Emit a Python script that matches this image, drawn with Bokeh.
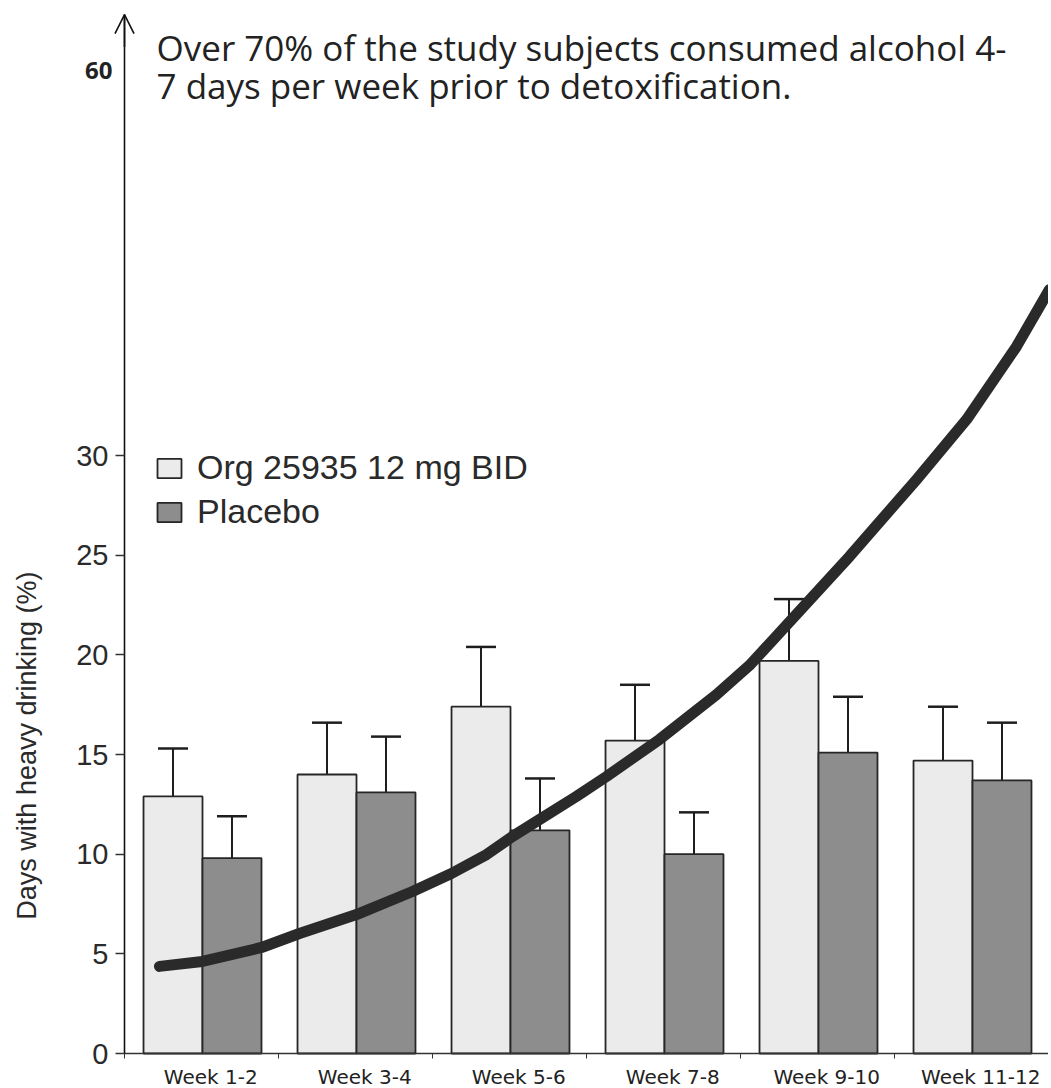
import math
from bokeh.plotting import figure
from bokeh.models import (Range1d, FixedTicker, Whisker, TeeHead, ColumnDataSource,
                          Legend, LegendItem, Label, Arrow, OpenHead)
from bokeh.embed import file_html
from bokeh.resources import INLINE
import numpy as np

# ---- data ----
weeks = ["Week 1-2", "Week 3-4", "Week 5-6", "Week 7-8", "Week 9-10", "Week 11-12"]
org = [12.9, 14.0, 17.4, 15.7, 19.7, 14.7]
org_upper = [15.3, 16.6, 20.4, 18.5, 22.8, 17.4]
placebo = [9.8, 13.1, 11.2, 10.0, 15.1, 13.7]
placebo_upper = [11.9, 15.9, 13.8, 12.1, 17.9, 16.6]
y_ticks = [0, 5, 10, 15, 20, 25, 30]
series_names = ["Org 25935 12 mg BID", "Placebo"]
y_title = "Days with heavy drinking (%)"
note_lines = ["Over 70% of the  study subjects consumed alcohol 4-",
              "7 days per week prior to detoxification."]
top_label = "60"
# hand-drawn trend curve (x in week-group units, y in %)
curve_x = [0.227, 0.506, 0.890, 1.136, 1.506, 1.870, 2.123, 2.351, 2.519, 2.695, 2.935,
           3.130, 3.474, 3.844, 4.058, 4.273, 4.708, 5.143, 5.468, 5.792, 6.006]
curve_y = [4.37, 4.62, 5.32, 6.02, 6.97, 8.13, 9.03, 9.98, 10.89, 11.74, 12.90,
           13.90, 15.76, 18.01, 19.47, 21.27, 24.94, 28.80, 31.81, 35.47, 38.33]

PX_X = 154.0     # pixels per week group
PX_Y = 19.93     # pixels per percent
LEFT = 124       # pixel position of x = 0 inside the frame
ZERO = 1053      # pixel row of y = 0 inside the frame
FW, FH = 1048, 1087
Y_TOP_AXIS = 52.13

idx = np.arange(len(weeks))
x_org = idx + 0.315
x_pla = idx + 0.698

src = ColumnDataSource(dict(x_org=x_org, x_pla=x_pla, org=org, org_up=org_upper,
                            pla=placebo, pla_up=placebo_upper))

x0 = -LEFT / PX_X
y0 = -(FH - ZERO) / PX_Y
p = figure(frame_width=FW, frame_height=FH,
           x_range=Range1d(x0, x0 + FW / PX_X), y_range=Range1d(y0, y0 + FH / PX_Y),
           output_backend="svg", toolbar_location=None,
           min_border_left=0, min_border_right=0, min_border_top=0, min_border_bottom=0,
           background_fill_color="white", border_fill_color="white")
p.outline_line_color = None
p.grid.visible = False

# whiskers (upper only)
for base, lo, up in [("x_org", "org", "org_up"), ("x_pla", "pla", "pla_up")]:
    w = Whisker(source=src, base=base, lower=lo, upper=up, dimension="height",
                line_color="#1e1e1e", line_width=2,
                upper_head=TeeHead(size=30, line_color="#1e1e1e", line_width=2.5),
                lower_head=None, level="underlay")
    p.add_layout(w)

r_org = p.vbar(x="x_org", top="org", bottom=0, width=0.383, source=src,
               fill_color="#ebebeb", line_color="#262626", line_width=1.8)
r_pla = p.vbar(x="x_pla", top="pla", bottom=0, width=0.383, source=src,
               fill_color="#8d8d8d", line_color="#262626", line_width=1.8)

p.line(curve_x, curve_y, line_width=11, line_color="#2a2a2a", line_cap="round",
       line_join="round")

# y axis drawn at x = 0 inside the frame
ya = p.yaxis[0]
ya.fixed_location = 0
ya.bounds = (0, Y_TOP_AXIS)
ya.ticker = FixedTicker(ticks=y_ticks)
ya.major_tick_out = 9
ya.major_tick_in = 0
ya.minor_tick_out = 0
ya.minor_tick_in = 0
ya.axis_line_width = 1.6
ya.axis_line_color = "#111111"
ya.major_tick_line_color = "#333333"
ya.major_tick_line_width = 1.3
ya.major_label_text_font = "Liberation Sans"
ya.major_label_text_font_size = "29px"
ya.major_label_text_color = "#2a2a2a"
ya.major_label_standoff = 7

# x axis drawn at y = 0 inside the frame
xa = p.xaxis[0]
xa.fixed_location = 0
xa.bounds = (0, len(weeks))
centers = [float(i) + 0.56 for i in idx]
xa.ticker = FixedTicker(ticks=centers, minor_ticks=[float(i) for i in range(len(weeks) + 1)])
xa.major_label_overrides = {c: w for c, w in zip(centers, weeks)}
xa.major_tick_out = 0
xa.major_tick_in = 0
xa.minor_tick_out = 5
xa.minor_tick_in = 0
xa.minor_tick_line_color = "#333333"
xa.axis_line_width = 1.6
xa.axis_line_color = "#333333"
xa.major_label_text_font = "DejaVu Sans"
xa.major_label_text_font_size = "20px"
xa.major_label_text_color = "#222222"
xa.major_label_standoff = 6

# y axis title
p.add_layout(Label(x=(27 - 125) / PX_X, y=15.45, text=y_title, angle=math.pi / 2,
                   text_align="center", text_baseline="middle",
                   text_font="Liberation Sans", text_font_size="27px",
                   text_color="#2a2a2a"))

# arrow at top of y axis
p.add_layout(Arrow(end=OpenHead(size=19, line_width=1.6, line_color="#111111"),
                   x_start=0, y_start=50.5, x_end=0, y_end=Y_TOP_AXIS,
                   line_width=1.6, line_color="#111111"))

p.add_layout(Label(x=0, y=48.92, x_offset=-12, text=top_label, text_align="right",
                   text_font="Open Sans", text_font_style="bold", text_font_size="24px",
                   text_color="#222222"))

for txt, yy in zip(note_lines, [49.30, 47.40]):
    p.add_layout(Label(x=0.208, y=yy, text=txt, text_align="left",
                       text_baseline="bottom", text_font="Open Sans",
                       text_font_size="35px", text_color="#222222"))

legend = Legend(items=[LegendItem(label=series_names[0], renderers=[r_org]),
                       LegendItem(label=series_names[1], renderers=[r_pla])],
                location=(154, 556), orientation="vertical",
                glyph_width=30, glyph_height=24, label_height=24, spacing=5,
                padding=0, margin=0, border_line_color=None,
                background_fill_alpha=0, label_standoff=13,
                label_text_font="Liberation Sans", label_text_font_size="34px",
                label_text_color="#2a2a2a")
p.add_layout(legend)

open("out.html", "w").write(file_html(p, INLINE))
